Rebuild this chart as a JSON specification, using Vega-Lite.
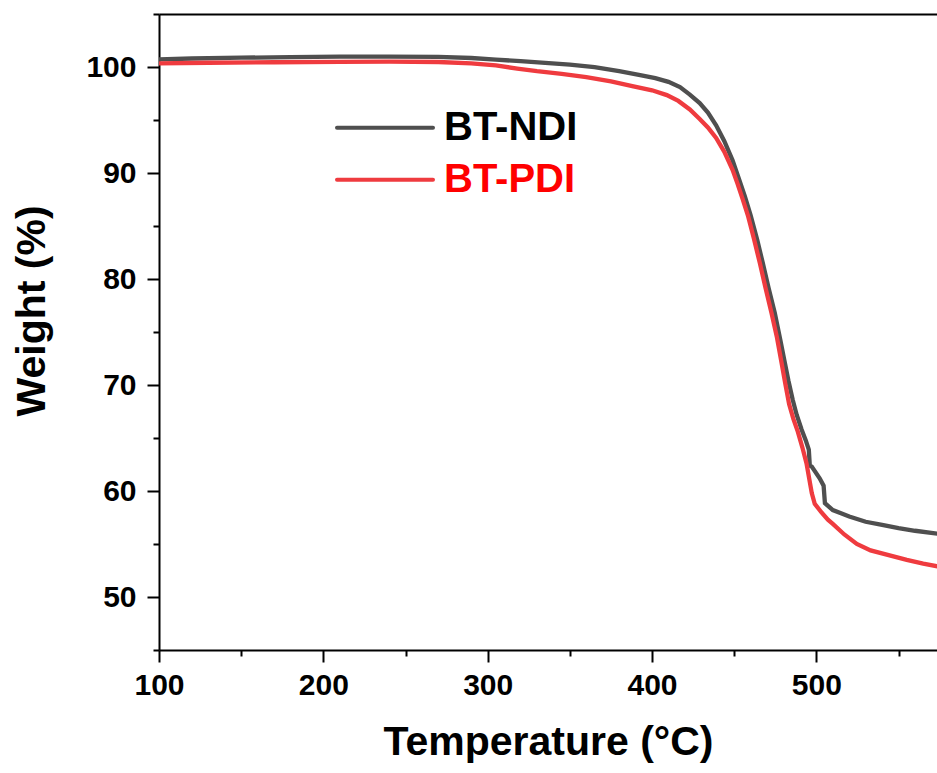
{
  "$schema": "https://vega.github.io/schema/vega-lite/v6.json",
  "autosize": {"type": "none"},
  "padding": {"left": 159, "top": 14, "right": 0, "bottom": 123},
  "width": 778,
  "height": 636,
  "background": "white",
  "config": {
    "font": "Liberation Sans",
    "view": {"stroke": null},
    "axis": {
      "grid": false,
      "domainColor": "black",
      "domainWidth": 2,
      "tickColor": "black",
      "tickWidth": 2,
      "labelFont": "Liberation Sans",
      "labelFontWeight": "bold",
      "labelFontSize": 30,
      "labelColor": "black",
      "labelFlush": false,
      "labelOverlap": false,
      "titleFont": "Liberation Sans",
      "titleFontWeight": "bold",
      "titleColor": "black"
    }
  },
  "datasets": {
    "tga": [
      {"series": "BT-NDI", "t": 100, "w": 100.72},
      {"series": "BT-NDI", "t": 120, "w": 100.8},
      {"series": "BT-NDI", "t": 150, "w": 100.88},
      {"series": "BT-NDI", "t": 180, "w": 100.93},
      {"series": "BT-NDI", "t": 210, "w": 100.97},
      {"series": "BT-NDI", "t": 240, "w": 100.98},
      {"series": "BT-NDI", "t": 270, "w": 100.95},
      {"series": "BT-NDI", "t": 290, "w": 100.85},
      {"series": "BT-NDI", "t": 305, "w": 100.7},
      {"series": "BT-NDI", "t": 320, "w": 100.55},
      {"series": "BT-NDI", "t": 335, "w": 100.38},
      {"series": "BT-NDI", "t": 350, "w": 100.22},
      {"series": "BT-NDI", "t": 365, "w": 99.98},
      {"series": "BT-NDI", "t": 380, "w": 99.6},
      {"series": "BT-NDI", "t": 392, "w": 99.25},
      {"series": "BT-NDI", "t": 402, "w": 98.95},
      {"series": "BT-NDI", "t": 410, "w": 98.6},
      {"series": "BT-NDI", "t": 417, "w": 98.1},
      {"series": "BT-NDI", "t": 423, "w": 97.4},
      {"series": "BT-NDI", "t": 429, "w": 96.6},
      {"series": "BT-NDI", "t": 434, "w": 95.7},
      {"series": "BT-NDI", "t": 439, "w": 94.5},
      {"series": "BT-NDI", "t": 444, "w": 93.0},
      {"series": "BT-NDI", "t": 449, "w": 91.2},
      {"series": "BT-NDI", "t": 453, "w": 89.4},
      {"series": "BT-NDI", "t": 456.5, "w": 87.8},
      {"series": "BT-NDI", "t": 460, "w": 86.0},
      {"series": "BT-NDI", "t": 464, "w": 83.7},
      {"series": "BT-NDI", "t": 467.4, "w": 81.5},
      {"series": "BT-NDI", "t": 471, "w": 79.1},
      {"series": "BT-NDI", "t": 474.7, "w": 76.8},
      {"series": "BT-NDI", "t": 478, "w": 74.3},
      {"series": "BT-NDI", "t": 480.8, "w": 72.1},
      {"series": "BT-NDI", "t": 483, "w": 70.4},
      {"series": "BT-NDI", "t": 485.6, "w": 68.6},
      {"series": "BT-NDI", "t": 488, "w": 67.2},
      {"series": "BT-NDI", "t": 491, "w": 65.8},
      {"series": "BT-NDI", "t": 493.5, "w": 64.8},
      {"series": "BT-NDI", "t": 495.4, "w": 63.9},
      {"series": "BT-NDI", "t": 496, "w": 62.4},
      {"series": "BT-NDI", "t": 497.2, "w": 62.3},
      {"series": "BT-NDI", "t": 502, "w": 61.2},
      {"series": "BT-NDI", "t": 504.4, "w": 60.5},
      {"series": "BT-NDI", "t": 505.2, "w": 58.85},
      {"series": "BT-NDI", "t": 510, "w": 58.2},
      {"series": "BT-NDI", "t": 515, "w": 57.9},
      {"series": "BT-NDI", "t": 520, "w": 57.6},
      {"series": "BT-NDI", "t": 530, "w": 57.1},
      {"series": "BT-NDI", "t": 540, "w": 56.8},
      {"series": "BT-NDI", "t": 550, "w": 56.5},
      {"series": "BT-NDI", "t": 560, "w": 56.25},
      {"series": "BT-NDI", "t": 575, "w": 55.95},
      {"series": "BT-PDI", "t": 100, "w": 100.35},
      {"series": "BT-PDI", "t": 130, "w": 100.4},
      {"series": "BT-PDI", "t": 170, "w": 100.45},
      {"series": "BT-PDI", "t": 210, "w": 100.48},
      {"series": "BT-PDI", "t": 240, "w": 100.5},
      {"series": "BT-PDI", "t": 270, "w": 100.47},
      {"series": "BT-PDI", "t": 290, "w": 100.35},
      {"series": "BT-PDI", "t": 305, "w": 100.15},
      {"series": "BT-PDI", "t": 318, "w": 99.85},
      {"series": "BT-PDI", "t": 330, "w": 99.6},
      {"series": "BT-PDI", "t": 345, "w": 99.35},
      {"series": "BT-PDI", "t": 360, "w": 99.05},
      {"series": "BT-PDI", "t": 375, "w": 98.65},
      {"series": "BT-PDI", "t": 388, "w": 98.2},
      {"series": "BT-PDI", "t": 400, "w": 97.8},
      {"series": "BT-PDI", "t": 409, "w": 97.35},
      {"series": "BT-PDI", "t": 416, "w": 96.8},
      {"series": "BT-PDI", "t": 423, "w": 96.0},
      {"series": "BT-PDI", "t": 429, "w": 95.1},
      {"series": "BT-PDI", "t": 434, "w": 94.3},
      {"series": "BT-PDI", "t": 439, "w": 93.3},
      {"series": "BT-PDI", "t": 444, "w": 92.0},
      {"series": "BT-PDI", "t": 449, "w": 90.3},
      {"series": "BT-PDI", "t": 452, "w": 89.0},
      {"series": "BT-PDI", "t": 455, "w": 87.6},
      {"series": "BT-PDI", "t": 458.5, "w": 85.9},
      {"series": "BT-PDI", "t": 462, "w": 83.8},
      {"series": "BT-PDI", "t": 465.6, "w": 81.5},
      {"series": "BT-PDI", "t": 469, "w": 79.2},
      {"series": "BT-PDI", "t": 472.7, "w": 76.8},
      {"series": "BT-PDI", "t": 476, "w": 74.5},
      {"series": "BT-PDI", "t": 478.8, "w": 72.1},
      {"series": "BT-PDI", "t": 481, "w": 70.2},
      {"series": "BT-PDI", "t": 483.4, "w": 68.2},
      {"series": "BT-PDI", "t": 486, "w": 66.8},
      {"series": "BT-PDI", "t": 488.7, "w": 65.6},
      {"series": "BT-PDI", "t": 491.5, "w": 64.1},
      {"series": "BT-PDI", "t": 494, "w": 62.6},
      {"series": "BT-PDI", "t": 497.2, "w": 59.8},
      {"series": "BT-PDI", "t": 499, "w": 58.8},
      {"series": "BT-PDI", "t": 503, "w": 58.0},
      {"series": "BT-PDI", "t": 507, "w": 57.3},
      {"series": "BT-PDI", "t": 510, "w": 56.9},
      {"series": "BT-PDI", "t": 517, "w": 55.9},
      {"series": "BT-PDI", "t": 524.6, "w": 55.0},
      {"series": "BT-PDI", "t": 533, "w": 54.4},
      {"series": "BT-PDI", "t": 542.8, "w": 54.0},
      {"series": "BT-PDI", "t": 555, "w": 53.5},
      {"series": "BT-PDI", "t": 565, "w": 53.15},
      {"series": "BT-PDI", "t": 575, "w": 52.85}
    ]
  },
  "data": {"name": "tga"},
  "resolve": {"axis": {"x": "independent", "y": "independent"}},
  "layer": [
    {
      "mark": {"type": "line", "opacity": 0, "clip": true},
      "encoding": {
        "x": {"field": "t", "type": "quantitative", "scale": {"domain": [100, 573.4], "nice": false, "zero": false},
          "axis": {"orient": "top", "ticks": false, "labels": false, "title": null, "domain": true}},
        "y": {"field": "w", "type": "quantitative", "scale": {"domain": [45, 105], "nice": false, "zero": false},
          "axis": {"orient": "left", "values": [45, 55, 65, 75, 85, 95, 105], "tickSize": 6, "labels": false, "domain": false, "title": null}},
        "detail": {"field": "series"}
      }
    },
    {
      "mark": {"type": "line", "opacity": 0, "clip": true},
      "encoding": {
        "x": {"field": "t", "type": "quantitative",
          "axis": {"orient": "bottom", "values": [150, 250, 350, 450, 550], "tickSize": 6, "labels": false, "domain": false, "title": null}},
        "y": {"field": "w", "type": "quantitative",
          "axis": {"orient": "left", "values": [50, 60, 70, 80, 90, 100], "tickSize": 12, "labelPadding": 11, "domain": true,
            "title": "Weight (%)", "titleFontSize": 41, "titleAngle": -90, "titleAlign": "center", "titleBaseline": "alphabetic", "titleX": -114.6, "titleY": 296.5}},
        "detail": {"field": "series"}
      }
    },
    {
      "mark": {"type": "line", "strokeWidth": 4.3, "clip": true},
      "encoding": {
        "x": {"field": "t", "type": "quantitative",
          "axis": {"orient": "bottom", "values": [100, 200, 300, 400, 500], "tickSize": 12, "labelPadding": 8, "domain": true,
            "title": "Temperature (°C)", "titleFontSize": 41, "titleBaseline": "alphabetic", "titleY": 104}},
        "y": {"field": "w", "type": "quantitative",
          "axis": {"orient": "left", "ticks": false, "labels": false, "domain": false, "title": null}},
        "color": {
          "field": "series", "type": "nominal",
          "scale": {"domain": ["BT-NDI", "BT-PDI"], "range": ["#4f4f4f", "#ef3b3f"]},
          "legend": {
            "orient": "none", "legendX": 206, "legendY": 93.7, "title": null, "padding": 0,
            "symbolType": "M-4,0H4", "symbolSize": 576, "symbolStrokeWidth": 4,
            "labelFont": "Liberation Sans", "labelFontWeight": "bold", "labelFontSize": 40,
            "labelOffset": 39, "rowPadding": 12,
            "encode": {
              "labels": {"update": {"fill": {"signal": "datum.value === 'BT-PDI' ? '#ff0000' : '#000000'"}}},
              "symbols": {"update": {"strokeCap": {"value": "round"}}}
            }
          }
        }
      }
    }
  ]
}
